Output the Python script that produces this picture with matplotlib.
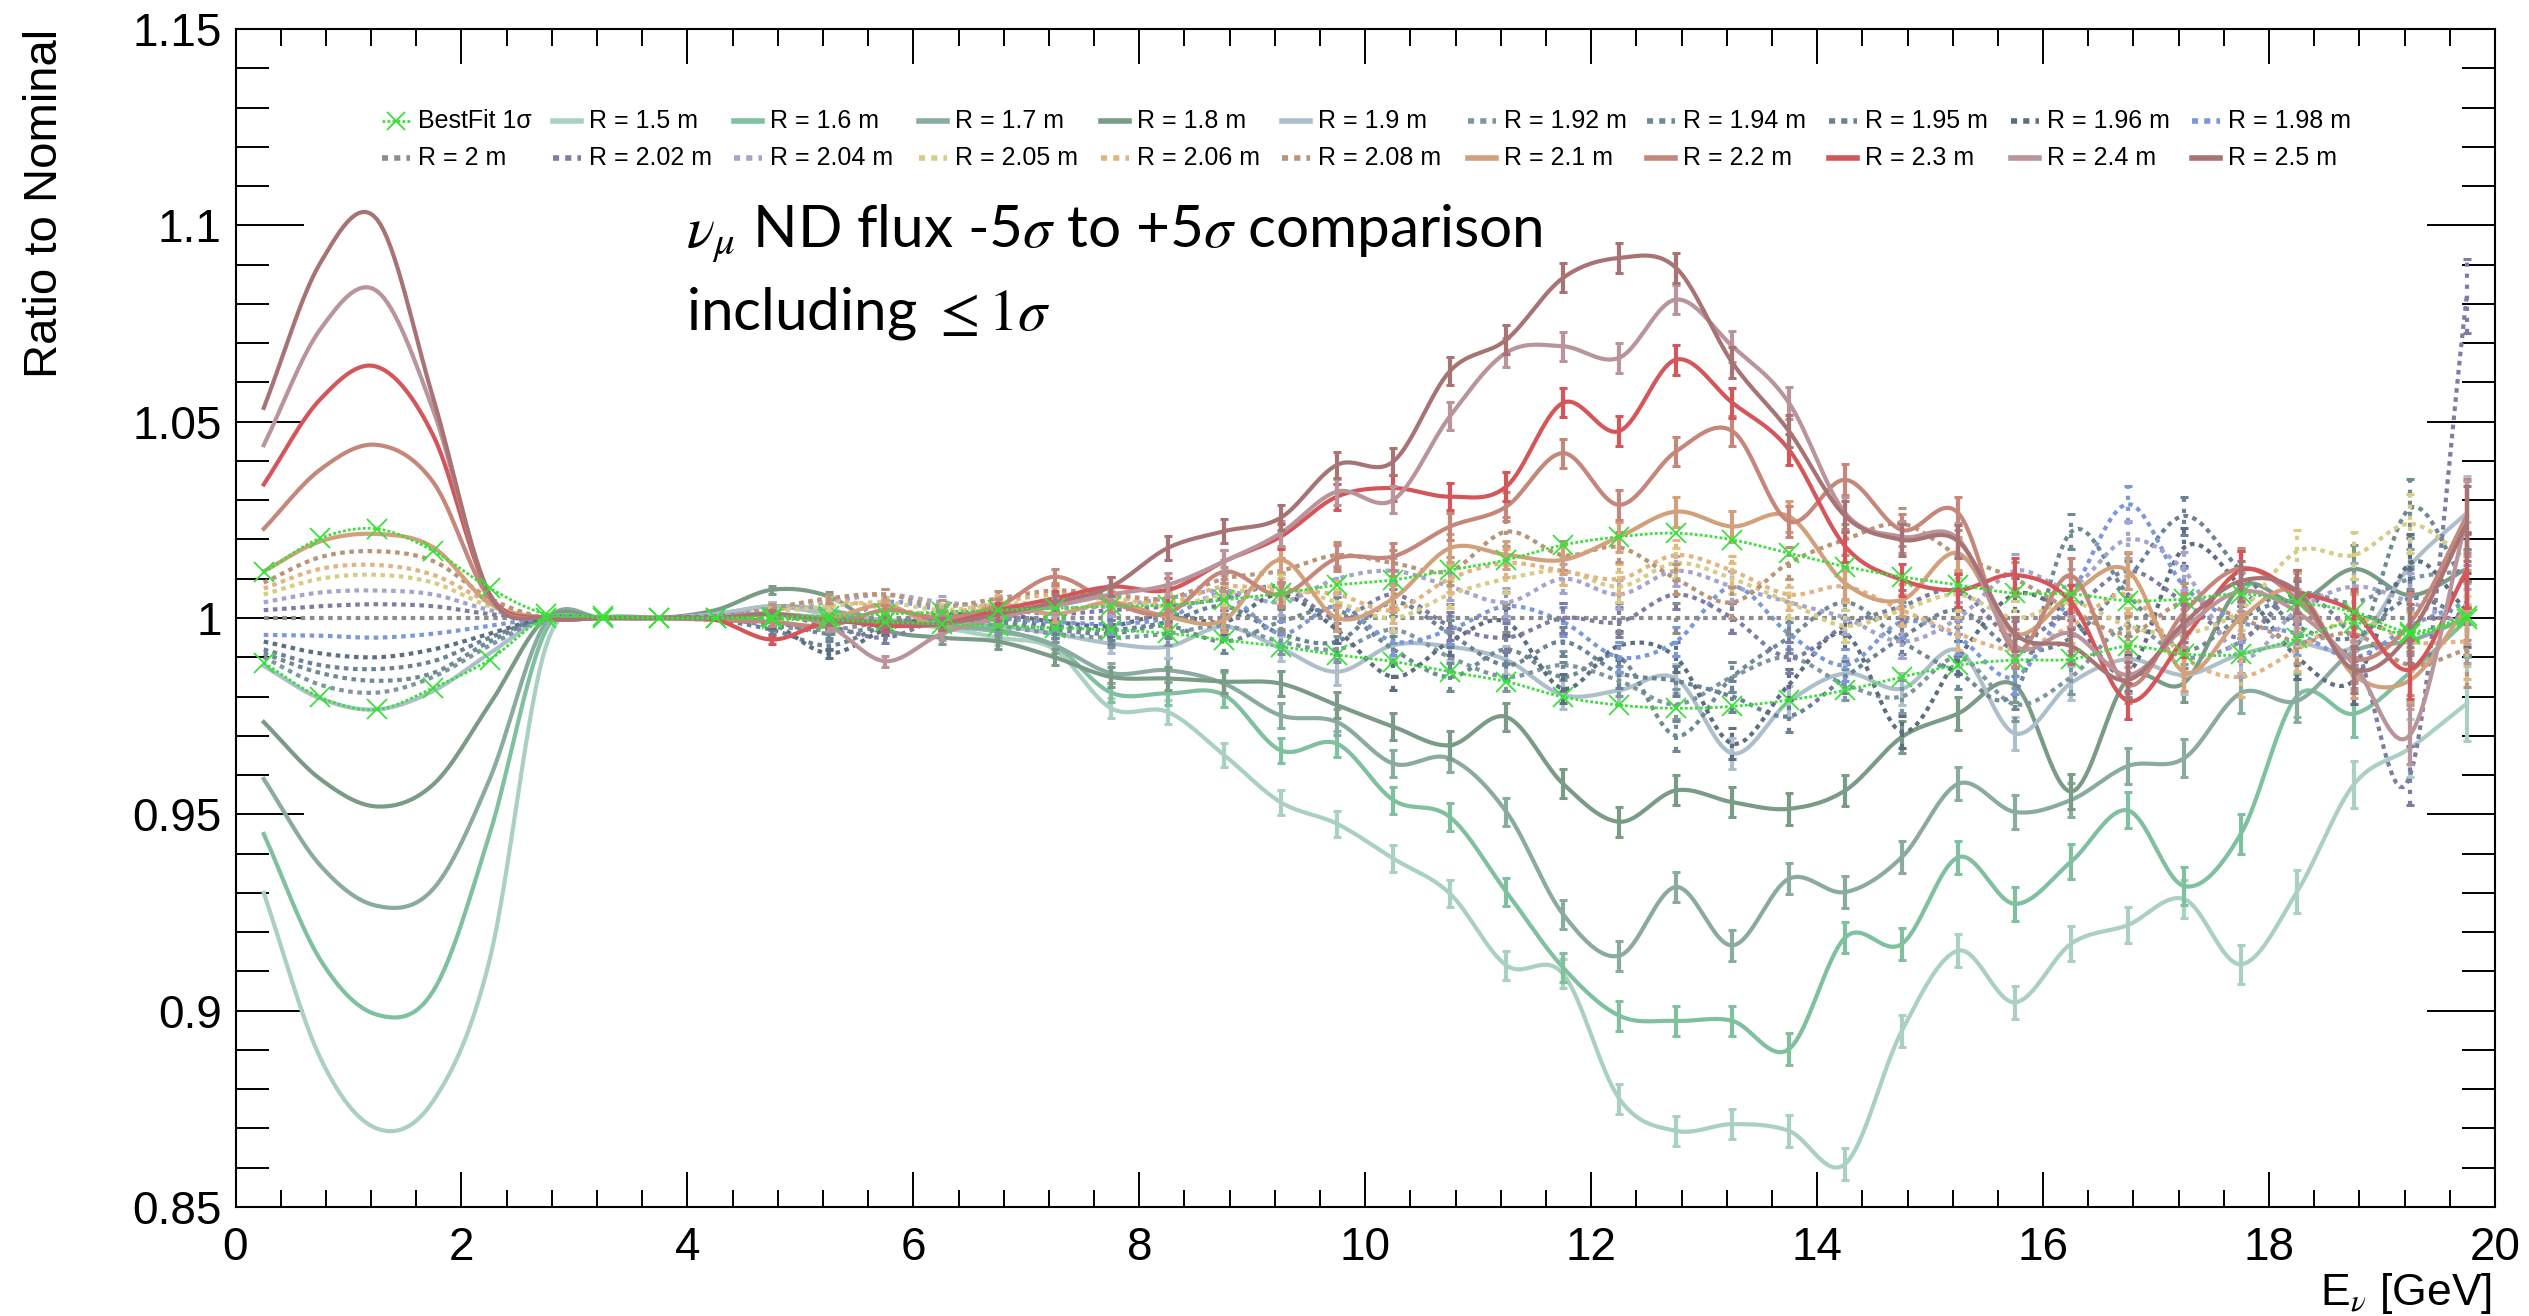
import numpy as np
import matplotlib.pyplot as plt
from matplotlib.lines import Line2D
from matplotlib.ticker import MultipleLocator, FuncFormatter

plt.rcParams['font.family'] = ['Liberation Sans', 'DejaVu Sans']
plt.rcParams['mathtext.fontset'] = 'stix'

# --- data: 40 bins of 0.5 GeV, ratio to nominal ---
energy = np.arange(40) * 0.5 + 0.25

r150 = [0.930, 0.888, 0.870, 0.877, 0.913, 0.993, 1.000, 1.000, 1.0005, 1.001,
        1.000, 0.999, 0.9975, 0.995, 0.992, 0.977, 0.9761, 0.9651, 0.9531, 0.9476,
        0.9387, 0.9298, 0.9115, 0.9094, 0.8775, 0.8694, 0.8711, 0.8694, 0.861, 0.8949,
        0.9153, 0.9021, 0.9171, 0.9218, 0.9284, 0.9118, 0.9304, 0.9576, 0.9669, 0.9782]
r160 = [0.945, 0.913, 0.899, 0.905, 0.945, 0.997, 1.000, 1.000, 1.0005, 1.001,
        1.000, 0.9995, 0.998, 0.9965, 0.993, 0.981, 0.9808, 0.9804, 0.9663, 0.9680,
        0.9536, 0.9493, 0.9302, 0.9110, 0.8987, 0.8974, 0.8974, 0.8902, 0.9187, 0.9170,
        0.9391, 0.9272, 0.9380, 0.9510, 0.9317, 0.9450, 0.9802, 0.9756, 0.9862, 0.9995]
r170 = [0.959, 0.937, 0.9267, 0.931, 0.959, 0.999, 1.000, 1.000, 1.001, 1.003,
        1.002, 0.999, 0.998, 0.997, 0.993, 0.986, 0.9867, 0.9833, 0.9752, 0.9735,
        0.9629, 0.9642, 0.9506, 0.9246, 0.9140, 0.9315, 0.9166, 0.9336, 0.9302, 0.9391,
        0.9578, 0.9506, 0.9537, 0.9623, 0.9643, 0.9809, 0.9789, 0.9915, 0.9942, 1.000]
r180 = [0.9735, 0.959, 0.952, 0.9576, 0.978, 1.000, 1.000, 1.000, 1.002, 1.0072,
        1.0055, 0.997, 0.995, 0.994, 0.990, 0.985, 0.9846, 0.9838, 0.9833, 0.9778,
        0.9723, 0.9676, 0.9748, 0.9578, 0.9481, 0.9561, 0.9531, 0.9514, 0.9561, 0.9697,
        0.9757, 0.9829, 0.9558, 0.9845, 0.9835, 1.0080, 1.0040, 1.0125, 1.0058, 1.0125]
r190 = [0.9878, 0.9795, 0.9767, 0.9814, 0.991, 1.000, 1.000, 1.000, 1.001, 1.003,
        1.001, 0.9995, 0.999, 0.998, 0.996, 0.9935, 0.9927, 0.9978, 0.9923, 0.9863,
        0.9931, 0.9927, 0.9893, 0.9804, 0.9816, 0.9846, 0.9655, 0.9787, 0.9859, 0.9820,
        0.9918, 0.9706, 0.9835, 0.9895, 0.9855, 0.9908, 0.9935, 0.9928, 1.0134, 1.0267]
r192 = [0.990, 0.983, 0.981, 0.985, 0.993, 1.000, 1.000, 1.000, 1.000, 0.998,
        0.997, 0.999, 1.000, 0.998, 0.996, 0.995, 0.996, 0.998, 0.994, 0.992,
        0.997, 0.990, 0.985, 0.988, 0.984, 0.978, 0.985, 0.990, 0.983, 0.980,
        0.990, 0.978, 0.985, 0.998, 0.990, 0.994, 1.006, 1.004, 1.010, 1.012]
r194 = [0.991, 0.986, 0.984, 0.986, 0.994, 1.000, 1.000, 1.000, 0.9995, 0.999,
        0.996, 0.998, 1.000, 0.999, 0.997, 0.996, 0.998, 0.994, 0.999, 1.002,
        0.992, 0.985, 0.992, 0.985, 0.990, 0.970, 0.985, 0.995, 1.004, 0.994,
        0.986, 0.981, 1.022, 1.006, 0.992, 1.000, 1.004, 0.992, 1.028, 1.008]
r195 = [0.992, 0.988, 0.987, 0.989, 0.995, 1.000, 1.000, 1.000, 0.9995, 0.997,
        0.993, 0.998, 1.001, 1.000, 0.998, 0.997, 0.999, 1.003, 0.996, 0.994,
        1.004, 0.996, 0.988, 0.994, 0.986, 0.984, 0.980, 0.975, 0.985, 0.995,
        1.002, 0.992, 0.995, 1.010, 1.026, 1.012, 0.998, 0.995, 1.005, 1.000]
r196 = [0.994, 0.991, 0.990, 0.992, 0.996, 1.000, 1.000, 1.000, 1.000, 0.9985,
        0.991, 0.997, 1.0005, 1.001, 0.999, 0.998, 1.001, 0.999, 1.006, 0.997,
        0.985, 0.994, 0.999, 0.982, 0.993, 0.990, 0.968, 0.983, 0.996, 0.971,
        0.990, 1.006, 1.000, 0.986, 1.018, 1.008, 0.990, 0.984, 1.014, 1.002]
r198 = [0.9957, 0.9955, 0.995, 0.996, 0.998, 1.000, 1.000, 1.000, 1.000, 0.999,
        0.998, 1.004, 1.002, 1.000, 0.999, 0.9985, 1.000, 1.006, 0.996, 1.003,
        0.994, 0.997, 1.003, 0.999, 0.990, 0.994, 1.008, 0.996, 0.988, 0.999,
        0.995, 0.985, 1.006, 1.029, 1.008, 0.999, 0.996, 0.990, 0.998, 1.004]
r200 = [1.000, 1.000, 1.000, 1.000, 1.000, 1.000, 1.000, 1.000, 1.000, 1.000,
        1.000, 1.000, 1.000, 1.000, 1.000, 1.000, 1.000, 1.000, 1.000, 1.000,
        1.000, 1.000, 1.000, 1.000, 1.000, 1.000, 1.000, 1.000, 1.000, 1.000,
        1.000, 1.000, 1.000, 1.000, 1.000, 1.000, 1.000, 1.000, 1.000, 1.000]
r202 = [1.002, 1.003, 1.0035, 1.003, 1.001, 1.000, 1.000, 1.000, 1.0005, 1.001,
        0.998, 0.995, 1.000, 1.002, 1.001, 1.002, 1.003, 1.005, 1.008, 1.000,
        1.006, 0.998, 0.995, 1.000, 0.999, 1.006, 1.000, 0.990, 0.998, 1.003,
        1.007, 0.995, 1.002, 1.012, 1.004, 0.995, 1.006, 0.994, 0.960, 1.082]
r204 = [1.004, 1.0065, 1.007, 1.006, 1.002, 1.000, 1.000, 1.000, 1.0005, 1.002,
        1.004, 1.006, 1.004, 1.003, 1.0025, 1.003, 1.005, 1.007, 1.004, 1.010,
        1.012, 1.008, 1.004, 1.010, 1.006, 1.012, 1.008, 1.004, 1.000, 0.994,
        1.000, 1.012, 1.008, 1.020, 1.012, 0.990, 1.002, 1.008, 1.004, 0.998]
r205 = [1.006, 1.010, 1.011, 1.009, 1.003, 1.000, 1.000, 1.000, 1.000, 1.0015,
        1.003, 1.004, 1.002, 1.0035, 1.004, 1.005, 1.003, 1.006, 1.008, 1.004,
        1.000, 1.006, 1.010, 1.012, 1.008, 1.014, 1.010, 1.004, 0.998, 1.002,
        1.006, 1.000, 1.004, 0.998, 0.996, 1.002, 1.017, 1.016, 1.024, 1.015]
r206 = [1.0075, 1.0125, 1.0135, 1.011, 1.004, 1.000, 1.000, 1.000, 1.000, 1.002,
        1.0045, 1.0025, 1.001, 1.004, 1.006, 1.0055, 1.004, 1.008, 1.007, 1.006,
        1.002, 1.010, 1.014, 1.012, 1.010, 1.016, 1.012, 1.006, 1.008, 1.002,
        0.996, 0.992, 0.998, 1.006, 0.990, 0.985, 0.992, 1.000, 0.994, 0.994]
r208 = [1.009, 1.0155, 1.017, 1.0145, 1.005, 1.000, 1.000, 1.000, 1.000, 1.0025,
        1.005, 1.006, 1.003, 1.005, 1.007, 1.006, 1.005, 1.010, 1.012, 1.016,
        1.014, 1.012, 1.022, 1.016, 1.018, 1.010, 1.004, 1.014, 1.020, 1.024,
        1.016, 1.010, 1.002, 0.996, 1.004, 1.000, 0.994, 0.996, 0.988, 0.992]
r210 = [1.0119, 1.0195, 1.0214, 1.018, 1.0037, 1.000, 1.000, 1.000, 1.000, 1.001,
        1.000, 1.0033, 0.998, 1.0033, 1.001, 1.004, 1.0003, 0.9995, 1.0148, 1.000,
        1.005, 1.0178, 1.0161, 1.0148, 1.0207, 1.0271, 1.0233, 1.0259, 1.0088, 1.0046,
        1.0165, 0.996, 1.0061, 1.0121, 0.9862, 1.000, 1.0068, 0.9855, 0.9842, 1.0028]
r220 = [1.0227, 1.0378, 1.0441, 1.0346, 1.005, 1.000, 1.000, 1.000, 0.9995, 0.999,
        0.998, 1.002, 1.000, 1.003, 1.0105, 1.004, 1.0012, 1.0118, 1.0059, 1.0152,
        1.0157, 1.0233, 1.0284, 1.0420, 1.0288, 1.0424, 1.0476, 1.0246, 1.0352, 1.0224,
        1.0267, 0.9918, 1.0108, 0.9829, 1.0015, 1.0127, 1.0048, 0.9895, 0.9988, 1.026]
r230 = [1.034, 1.0557, 1.064, 1.0465, 1.006, 1.000, 1.000, 1.000, 0.9995, 0.9945,
        0.999, 0.998, 0.9985, 1.002, 1.005, 1.008, 1.0071, 1.0144, 1.0207, 1.0309,
        1.0331, 1.0309, 1.0335, 1.0548, 1.0476, 1.0658, 1.0548, 1.0429, 1.0182, 1.0097,
        1.0071, 1.011, 1.004, 0.9789, 0.9948, 1.0121, 1.0068, 1.0015, 0.9869, 1.0121]
r240 = [1.044, 1.0735, 1.0833, 1.0529, 1.006, 1.000, 1.000, 1.000, 1.000, 1.001,
        0.998, 0.989, 0.996, 1.000, 1.003, 1.006, 1.0084, 1.0144, 1.0216, 1.0322,
        1.0301, 1.0514, 1.0676, 1.0692, 1.0663, 1.0811, 1.0692, 1.0548, 1.0267, 1.0207,
        1.0201, 0.993, 0.9961, 0.9855, 0.9975, 1.0068, 1.0015, 0.9882, 0.9703, 1.0254]
r250 = [1.0535, 1.0904, 1.1016, 1.056, 1.006, 1.000, 1.000, 1.000, 1.000, 1.001,
        0.9995, 0.999, 0.9985, 1.001, 1.004, 1.008, 1.0178, 1.0221, 1.0255, 1.0390,
        1.0399, 1.0629, 1.0709, 1.0866, 1.0917, 1.0892, 1.0650, 1.0476, 1.0259, 1.0199,
        1.0195, 0.996, 0.9928, 0.9842, 0.9988, 1.0094, 1.0068, 0.9869, 0.9961, 1.024]

bestfit_up = [1.0116, 1.0203, 1.0227, 1.0171, 1.0076, 1.001, 1.0005, 1.000, 1.000, 1.0003,
              1.0005, 1.001, 1.0015, 1.002, 1.0025, 1.003, 1.0033, 1.0046, 1.0063, 1.0084,
              1.0097, 1.0122, 1.0148, 1.0186, 1.0207, 1.0216, 1.0199, 1.0165, 1.0131, 1.0105,
              1.0084, 1.0063, 1.0061, 1.0044, 1.0048, 1.0061, 1.0041, 1.0015, 0.9965, 1.0004]
bestfit_lo = [0.9886, 0.9798, 0.9767, 0.9822, 0.9894, 1.000, 1.000, 1.000, 1.000, 0.9997,
              0.9995, 0.999, 0.9985, 0.998, 0.9975, 0.997, 0.9961, 0.9944, 0.9927, 0.9906,
              0.9889, 0.9863, 0.9838, 0.9799, 0.9778, 0.9770, 0.9775, 0.9791, 0.9816, 0.9850,
              0.9880, 0.9893, 0.9895, 0.9928, 0.9908, 0.9908, 0.9948, 0.9988, 0.9958, 0.9998]

# statistical error per bin (same for every R)
err = [0.0005, 0.0005, 0.0005, 0.0005, 0.0005, 0.0005, 0.0006, 0.0007, 0.0008, 0.001,
       0.0012, 0.0014, 0.0016, 0.0018, 0.002, 0.0025, 0.003, 0.003, 0.0032, 0.0033,
       0.0034, 0.0035, 0.0036, 0.0037, 0.0038, 0.0038, 0.0039, 0.004, 0.004, 0.0041,
       0.0042, 0.0043, 0.0044, 0.0046, 0.0048, 0.005, 0.0055, 0.006, 0.0075, 0.0095]

# label, values, colour, dotted?
series = [
    ('R = 1.5 m', r150, '#a9d0c2', False),
    ('R = 1.6 m', r160, '#7fc09e', False),
    ('R = 1.7 m', r170, '#8aaba0', False),
    ('R = 1.8 m', r180, '#7a9c86', False),
    ('R = 1.9 m', r190, '#aebfcc', False),
    ('R = 1.92 m', r192, '#7d96a0', True),
    ('R = 1.94 m', r194, '#6e8a92', True),
    ('R = 1.95 m', r195, '#6a8296', True),
    ('R = 1.96 m', r196, '#5d6e80', True),
    ('R = 1.98 m', r198, '#7b98d8', True),
    ('R = 2 m', r200, '#8c8c8c', True),
    ('R = 2.02 m', r202, '#7c7ca4', True),
    ('R = 2.04 m', r204, '#a4a4cc', True),
    ('R = 2.05 m', r205, '#d6cc84', True),
    ('R = 2.06 m', r206, '#e2b482', True),
    ('R = 2.08 m', r208, '#b89478', True),
    ('R = 2.1 m', r210, '#d3a07c', False),
    ('R = 2.2 m', r220, '#c5877a', False),
    ('R = 2.3 m', r230, '#d5565a', False),
    ('R = 2.4 m', r240, '#b9949a', False),
    ('R = 2.5 m', r250, '#a87374', False),
]
green = '#3ae03a'
dots = (0, (1.1, 1.1))


def smooth(x, y, n=16):
    """Catmull-Rom curve through the points (like ROOT's "C" draw option)."""
    def ext(a):
        a = np.asarray(a, float)
        return np.concatenate([[2 * a[0] - a[1]], a, [2 * a[-1] - a[-2]]])
    t = np.linspace(0, 1, n, endpoint=False)[:, None]
    out = []
    for a in (ext(x), ext(y)):
        p0, p1, p2, p3 = a[:-3], a[1:-2], a[2:-1], a[3:]
        s = 0.5 * (2 * p1 + (p2 - p0) * t + (2 * p0 - 5 * p1 + 4 * p2 - p3) * t ** 2
                   + (3 * p1 - p0 - 3 * p2 + p3) * t ** 3)
        out.append(np.append(s.T.ravel(), a[-2]))
    return out


W, H = 2529, 1316
fig = plt.figure(figsize=(W / 100, H / 100), dpi=100)
ax = fig.add_axes([235.5 / W, 1 - 1207 / H, (2495 - 235.5) / W, (1207 - 29) / H])


def fx(px):
    return px / W


def fy(py):
    return 1 - py / H


err_arr = np.array(err)
shown = err_arr >= 0.001  # tiny bars are not visible in the original

# curves with error bars
for label, vals, color, dotted in series:
    xs, ys = smooth(energy, vals)
    ax.plot(xs, ys, color=color, lw=3, ls=dots if dotted else '-', zorder=2)
    eb = ax.errorbar(energy[shown], np.array(vals)[shown], yerr=err_arr[shown], fmt='none',
                     ecolor=color, elinewidth=3, capsize=3, capthick=2.2, zorder=2)
    if dotted:
        for lc in eb[2]:
            lc.set_linestyle(':')

# best fit 1 sigma band
for band in (bestfit_up, bestfit_lo):
    xs, ys = smooth(energy, band)
    ax.plot(xs, ys, color=green, lw=2, ls=(0, (1, 0.8)), zorder=3)
    ax.plot(energy, band, ls='none', marker='x', ms=15, mew=1.3, color=green, zorder=3)

ax.set_xlim(0, 20)
ax.set_ylim(0.85, 1.15)
ax.xaxis.set_major_locator(MultipleLocator(2))
ax.xaxis.set_minor_locator(MultipleLocator(0.4))
ax.yaxis.set_major_locator(MultipleLocator(0.05))
ax.yaxis.set_minor_locator(MultipleLocator(0.01))
ax.yaxis.set_major_formatter(FuncFormatter(lambda v, p: '%g' % round(v, 3)))
ax.xaxis.set_major_formatter(FuncFormatter(lambda v, p: '%g' % v))
ax.tick_params(which='both', direction='in', top=True, right=True, width=1.4)
ax.tick_params(axis='y', which='major', length=49, labelsize=33, pad=10)
ax.tick_params(axis='y', which='minor', length=24)
ax.tick_params(axis='x', which='major', length=25, labelsize=33, pad=14)
ax.tick_params(axis='x', which='minor', length=12)
for sp in ax.spines.values():
    sp.set_linewidth(1.5)

fig.text(fx(45), fy(29), 'Ratio to Nominal', rotation=90, ha='center', va='top', fontsize=34)
fig.text(fx(2492), fy(1293), r'E$_{\nu}$ [GeV]', ha='right', va='center', fontsize=32)

# annotation
fig.text(fx(686), fy(234), r'$\nu_\mu$ ND flux -5$\sigma$ to +5$\sigma$ comparison',
         fontsize=42, family=['Lato', 'DejaVu Sans'], ha='left', va='center')
fig.text(fx(686), fy(314), r'including $\leq 1\sigma$',
         fontsize=42, family=['Lato', 'DejaVu Sans'], ha='left', va='center')

# legend drawn as two rows of 11 entries (ROOT TLegend style)
col_x = [382, 553, 734, 919, 1101, 1282, 1468, 1647, 1829, 2011, 2192]
row_y = [121, 158]
entries = [('BestFit 1σ', green, 'bf')] + [(s[0], s[2], s[3]) for s in series]
for i, (label, color, kind) in enumerate(entries):
    x0 = col_x[i % 11]
    y0 = row_y[i // 11]
    if kind == 'bf':
        fig.add_artist(Line2D([fx(x0), fx(x0 + 28)], [fy(y0)] * 2, transform=fig.transFigure,
                              color=green, lw=2, ls=(0, (1, 0.8))))
        fig.add_artist(Line2D([fx(x0 + 14)], [fy(y0)], transform=fig.transFigure,
                              color=green, marker='x', ms=13, mew=1.3, ls='none'))
    else:
        fig.add_artist(Line2D([fx(x0), fx(x0 + 28)], [fy(y0)] * 2, transform=fig.transFigure,
                              color=color, lw=4, ls=dots if kind else '-'))
    fig.text(fx(x0 + 36), fy(y0), label, fontsize=18, ha='left', va='center')

fig.savefig('out.png', dpi=100)
